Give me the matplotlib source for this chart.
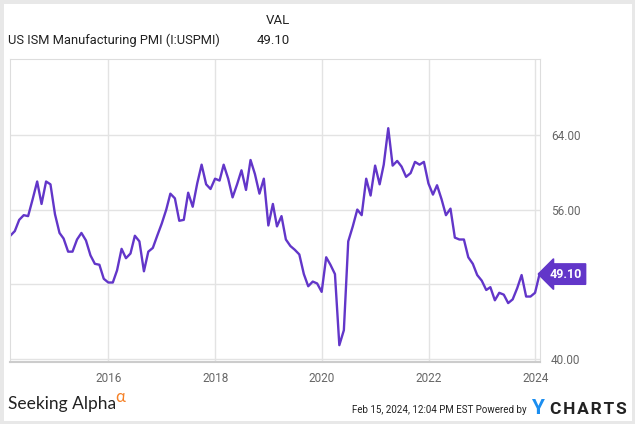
import pandas as pd
import matplotlib.pyplot as plt
import matplotlib.dates as mdates
from matplotlib.patches import Rectangle

# ISM Manufacturing PMI, monthly, Feb 2014 - Jan 2024
months = pd.date_range('2014-02-28', periods=120, freq='ME')
pmi = [
    53.2, 53.7, 54.9, 55.4, 55.3, 57.1, 59.0, 56.6, 59.0, 58.7, 55.5,
    53.5, 52.9, 51.5, 51.5, 52.8, 53.5, 52.7, 51.1, 50.2, 50.1, 48.6, 48.2,
    48.2, 49.5, 51.8, 50.8, 51.3, 53.2, 52.6, 49.4, 51.5, 51.9, 53.2, 54.5,
    56.0, 57.7, 57.2, 54.8, 54.9, 57.8, 56.3, 58.8, 60.8, 58.7, 58.2, 59.3,
    59.1, 60.8, 59.3, 57.3, 58.7, 60.2, 58.1, 61.3, 59.8, 57.7, 59.3, 54.3,
    56.6, 54.2, 55.3, 52.8, 52.1, 51.7, 51.2, 49.1, 47.8, 48.3, 48.1, 47.2,
    50.9, 50.1, 49.1, 41.5, 43.1, 52.6, 54.2, 56.0, 55.4, 59.3, 57.5, 60.7,
    58.7, 60.8, 64.7, 60.7, 61.2, 60.6, 59.5, 59.9, 61.1, 60.8, 61.1, 58.8,
    57.6, 58.6, 57.1, 55.4, 56.1, 53.0, 52.8, 52.8, 50.9, 50.2, 49.0, 48.4,
    47.4, 47.7, 46.3, 47.1, 46.9, 46.0, 46.4, 47.6, 49.0, 46.7, 46.7, 47.1,
    49.1,
]
year_ticks = ['2016', '2018', '2020', '2022', '2024']
y_ticks = [40, 48, 56, 64]
y_labels = ['40.00', '', '56.00', '64.00']

purple = '#6236c9'
grid = '#e3e3e3'
plt.rcParams['font.family'] = ['Roboto', 'DejaVu Sans']

fig = plt.figure(figsize=(6.35, 4.24), dpi=100)
fig.patches.append(Rectangle((0, 0), 1, 1, transform=fig.transFigure,
                             fill=False, edgecolor='#e8e8e8', linewidth=5))

ax = fig.add_axes([10 / 635, 62 / 424, 530 / 635, 303 / 424])
ax.plot(months, pmi, color=purple, linewidth=1.7)

ax.set_xlim(pd.Timestamp('2014-02-26'), pd.Timestamp('2024-02-03'))
ax.set_ylim(39.7, 72.1)
ax.set_xticks([pd.Timestamp(y + '-01-01') for y in year_ticks])
ax.xaxis.set_major_formatter(mdates.DateFormatter('%Y'))
ax.set_yticks(y_ticks)
ax.set_yticklabels(y_labels)
ax.yaxis.tick_right()
ax.tick_params(length=0, colors='#666666', labelsize=8.5)
ax.tick_params(axis='x', pad=7)
ax.tick_params(axis='y', pad=8)
ax.grid(True, color=grid, linewidth=1)
ax.set_axisbelow(True)
for side in ['top', 'left', 'right']:
    ax.spines[side].set_color('#dddddd')
ax.spines['bottom'].set_color('#cccccc')
ax.spines['bottom'].set_linewidth(1.5)

# value badge at the right edge
ax.text(1.018, pmi[-1], '49.10', transform=ax.get_yaxis_transform(),
        ha='left', va='center', color='white', fontsize=9, fontweight='bold',
        bbox=dict(boxstyle='larrow,pad=0.3', facecolor=purple, edgecolor=purple))

# header
fig.text(290 / 635, 1 - 20 / 424, 'VAL', fontsize=9.5, color='#222222',
         va='center', ha='right')
fig.text(8 / 635, 1 - 40 / 424, 'US ISM Manufacturing PMI (I:USPMI)',
         fontsize=9.3, color='#222222', va='center')
fig.text(290 / 635, 1 - 40 / 424, '49.10', fontsize=9.5, color='#222222',
         va='center', ha='right')

# footer
fig.text(8 / 635, 1 - 404 / 424, 'Seeking Alpha', fontsize=12.5, color='#222222',
         va='center', family=['Lato', 'DejaVu Sans'])
fig.text(115 / 635, 1 - 397 / 424, 'α', fontsize=12, color='#f58025', va='center',
         family=['Lato', 'DejaVu Sans'])
fig.text(527 / 635, 1 - 410 / 424, 'Feb 15, 2024, 12:04 PM EST Powered by',
         fontsize=7, color='#222222', va='center', ha='right')
fig.text(531 / 635, 1 - 409 / 424, 'Y', fontsize=15, color='#1b8ef0',
         fontweight='bold', va='center')
fig.text(627 / 635, 1 - 410 / 424, 'C\u200aH\u200aA\u200aR\u200aT\u200aS',
         fontsize=12.5, color='#222222', fontweight='bold', va='center', ha='right')

fig.savefig('out.png', dpi=100)
